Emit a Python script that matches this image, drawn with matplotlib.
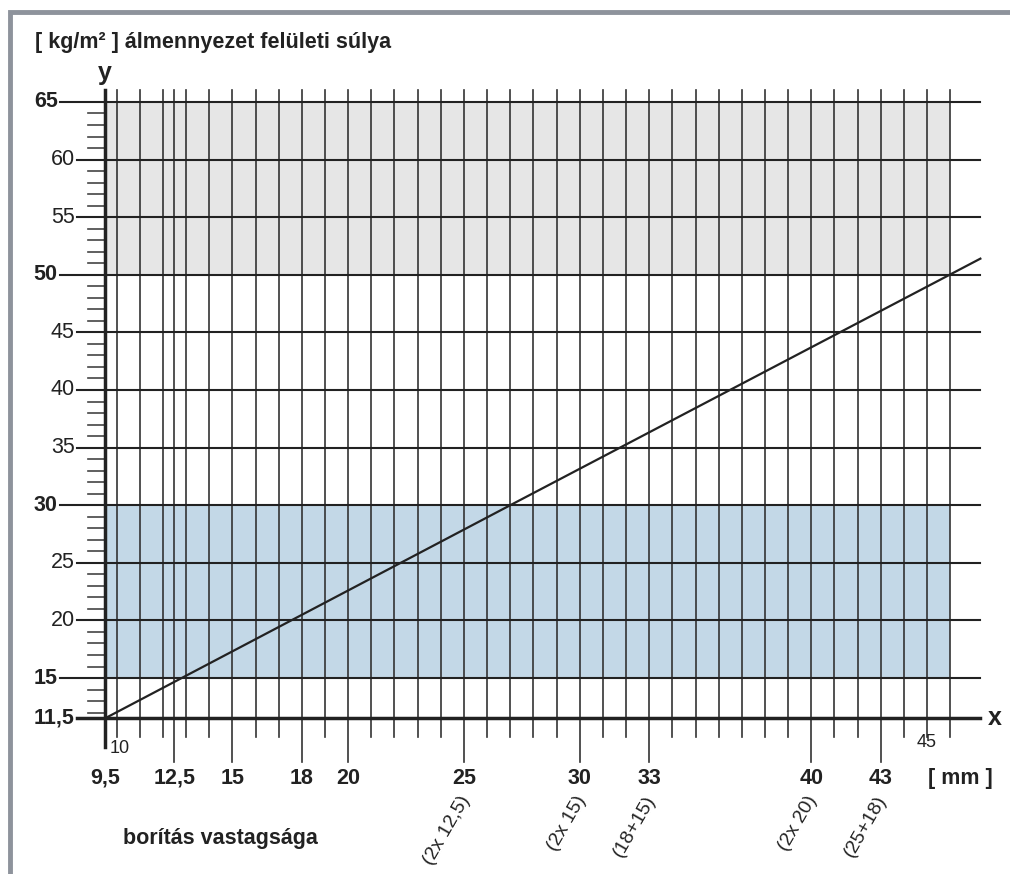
import matplotlib.pyplot as plt
from matplotlib.patches import Rectangle

plt.rcParams['font.family'] = ['Liberation Sans', 'DejaVu Sans']

# data
x_min, x_max = 9.5, 46
y_min, y_max = 11.5, 65
x_grid = [10, 11, 12, 12.5, 13, 14, 15, 16, 17, 18, 19, 20, 21, 22, 23, 24, 25, 26, 27, 28,
          29, 30, 31, 32, 33, 34, 35, 36, 37, 38, 39, 40, 41, 42, 43, 44, 45, 46]
x_major = [12.5, 15, 18, 20, 25, 30, 33, 40, 43]
x_major_labels = ['12,5', '15', '18', '20', '25', '30', '33', '40', '43']
x_combo = {25: '(2x 12,5)', 30: '(2x 15)', 33: '(18+15)', 40: '(2x 20)', 43: '(25+18)'}
y_grid = [15, 20, 25, 30, 35, 40, 45, 50, 55, 60, 65]
y_bold = [15, 30, 50, 65]
y_minor = [v for v in range(12, 65) if v % 5 != 0]
gray_band = (50, 65)
blue_band = (15, 30)
line_x = [9.5, 27, 47.3]
line_y = [11.5, 30, 51.4]

ink = '#222222'

fig = plt.figure(figsize=(10.1, 8.74), dpi=100)
ax = fig.add_axes([0, 0, 1, 1])
ax.set_xlim(4.965, 48.58)
ax.set_ylim(-2.01, 73.85)
ax.axis('off')

# frame
fig.patches.append(Rectangle((0.0099, -0.1), 1.2, 1.0866, transform=fig.transFigure,
                             fill=False, edgecolor='#8e939c', lw=3.5))

# bands
ax.add_patch(Rectangle((x_min, gray_band[0]), x_max - x_min, gray_band[1] - gray_band[0],
                       facecolor='#e6e6e6', edgecolor='none', zorder=0))
ax.add_patch(Rectangle((x_min, blue_band[0]), x_max - x_min, blue_band[1] - blue_band[0],
                       facecolor='#c3d8e7', edgecolor='none', zorder=0))

# vertical grid lines with ticks below x axis
for xv in x_grid:
    bottom = 7.7 if xv in x_major else 9.9
    ax.plot([xv, xv], [bottom, 66.0], color='#333333', lw=1.2, zorder=1)

# horizontal grid lines
for yv in y_grid:
    bold = yv in y_bold
    left = 7.56 if bold else 8.29
    ax.plot([left, 47.3], [yv, yv], color=ink, lw=1.5, zorder=1)
    ax.text(left - 0.1, yv, str(yv), ha='right', va='center', fontsize=15.5,
            fontweight='bold' if bold else 'normal', color=ink)

# y minor ticks
for yv in y_minor:
    ax.plot([8.77, x_min], [yv, yv], color='#444444', lw=1.2, zorder=1)

# axes
ax.plot([8.29, 47.3], [y_min, y_min], color=ink, lw=2.5, zorder=2)
ax.plot([x_min, x_min], [9.0, 66.0], color=ink, lw=2.5, zorder=2)
ax.text(8.19, y_min, '11,5', ha='right', va='center', fontsize=15.5, fontweight='bold', color=ink)

# line
ax.plot(line_x, line_y, color=ink, lw=1.6, zorder=3)

# x labels
ax.text(x_min, 6.3, '9,5', ha='center', va='center', fontsize=15.5, fontweight='bold', color=ink)
for xv, lab in zip(x_major, x_major_labels):
    ax.text(xv, 6.3, lab, ha='center', va='center', fontsize=15.5, fontweight='bold', color=ink)
ax.text(9.72, 8.9, '10', ha='left', va='center', fontsize=13, color=ink)
ax.text(45, 9.4, '45', ha='center', va='center', fontsize=13, color=ink)
ax.text(46.43, 6.3, '[ mm ]', ha='center', va='center', fontsize=15.5, fontweight='bold', color=ink)
for xv, lab in x_combo.items():
    ax.text(xv + 0.09, 4.71, lab, ha='right', va='center', rotation=60, rotation_mode='anchor',
            fontsize=14, color=ink)

ax.text(47.64, y_min, 'x', ha='left', va='center', fontsize=18, fontweight='bold', color=ink)
ax.text(x_min, 67.5, 'y', ha='center', va='center', fontsize=18, fontweight='bold', color=ink)
ax.text(6.48, 70.2, '[ kg/m² ] álmennyezet felületi súlya', ha='left', va='center',
        fontsize=15.5, fontweight='bold', color=ink)
ax.text(14.47, 1.11, 'borítás vastagsága', ha='center', va='center', fontsize=15.5,
        fontweight='bold', color=ink)

fig.savefig('out.png', dpi=100)
